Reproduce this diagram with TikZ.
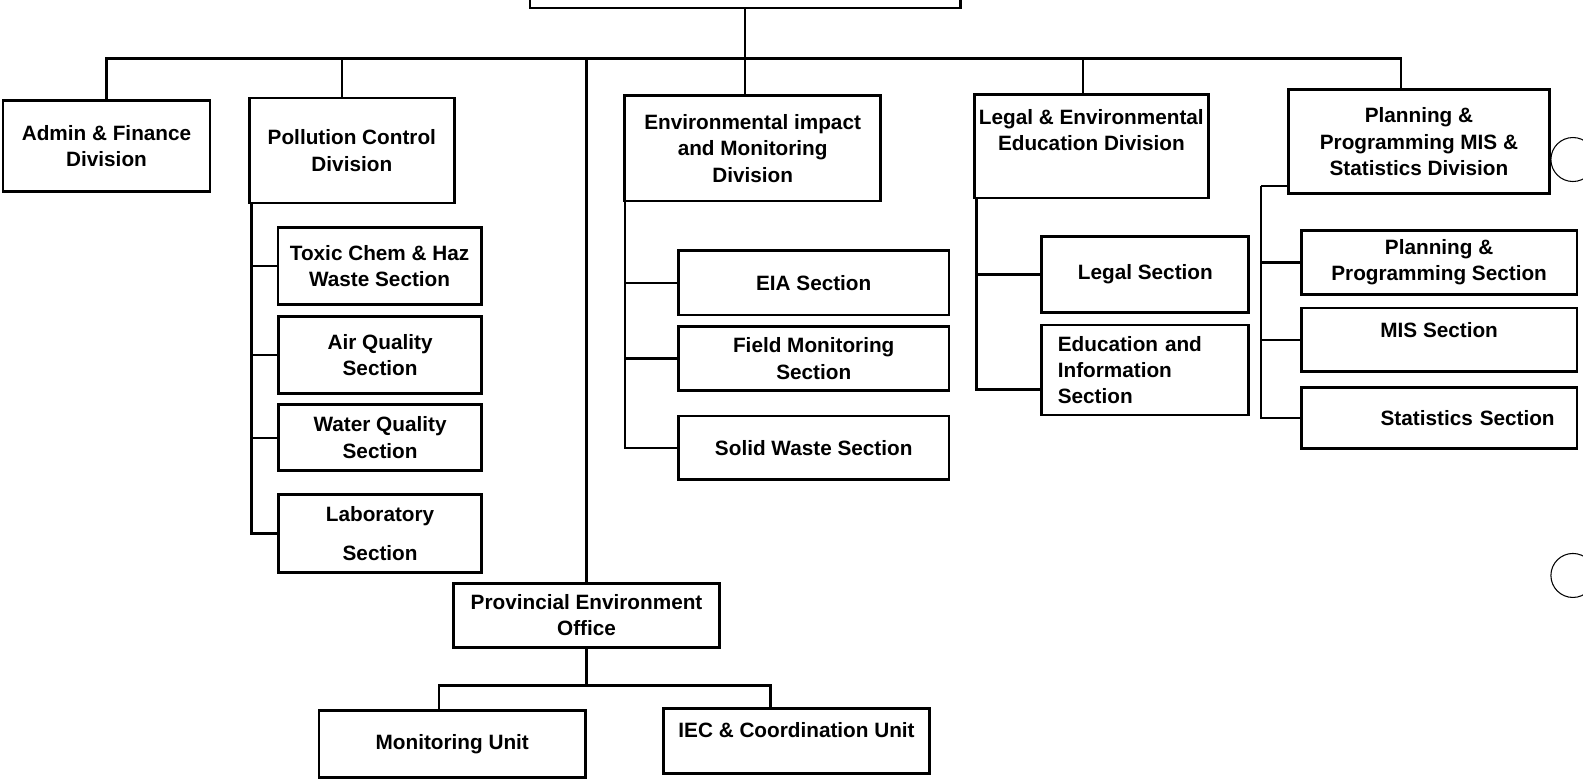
\documentclass[tikz,border=0pt]{standalone}
\usepackage{fontspec}
\setmainfont{Liberation Sans}
\usetikzlibrary{positioning}

\begin{document}
\begin{tikzpicture}[
    x=0.02019cm,y=-0.02019cm,
    box/.style={rectangle,draw,line width=1.6pt,fill=white,inner sep=2pt,align=center,
      font=\bfseries\fontsize{11.8}{15}\selectfont},
    division/.style={box,minimum height=2.08cm},
    section/.style={box,minimum height=1.29cm},
    link/.style={line width=1.3pt},
    punch/.style={line width=0.6pt}
    ]

    \path[use as bounding box,fill=white] (0,0) rectangle (1568,776);

    % head office, cut at the top edge
    \node (director) [box,minimum width=8.60cm,minimum height=1.37cm] at (738,-26) {};

    % divisions
    \node (admin) [division,minimum width=4.14cm,minimum height=1.82cm] at (105.5,145) {Admin \& Finance\\Division};
    \node (pollution) [division,minimum width=4.10cm,minimum height=2.10cm] at (348.5,149) {Pollution Control\\Division};
    \node (eim) [division,minimum width=5.11cm,minimum height=2.10cm] at (745.5,147) {Environmental impact\\and Monitoring\\Division};
    \node (legal) [division,minimum width=4.68cm,minimum height=2.06cm,inner xsep=0pt,text depth=19pt] at (1081,145) {Legal \& Environmental\\Education Division};
    \node (planning) [division,minimum width=5.23cm] at (1405.5,140.5) {Planning \&\\Programming MIS \&\\Statistics Division};

    % pollution control sections
    \node (toxic) [section,minimum width=4.06cm,minimum height=1.55cm] at (376,263.5) {Toxic Chem \& Haz\\Waste Section};
    \node (air) [section,minimum width=4.06cm,minimum height=1.55cm] at (376.5,351.5) {Air Quality\\Section};
    \node (water) [section,minimum width=4.06cm,minimum height=1.31cm] at (376.5,433.5) {Water Quality\\Section};
    \node (lab) [section,minimum width=4.06cm,minimum height=1.55cm] at (376.5,528.5) {Laboratory\\[7pt]Section};

    % impact and monitoring sections
    \node (eia) [section,minimum width=5.41cm] at (806,280) {EIA Section};
    \node (field) [section,minimum width=5.41cm] at (806,355) {Field Monitoring\\Section};
    \node (solid) [section,minimum width=5.41cm,minimum height=1.27cm] at (806,443.5) {Solid Waste Section};

    % legal sections
    \node (legalsec) [section,minimum width=4.14cm,minimum height=1.53cm] at (1134.5,272) {Legal Section};
    \node (edu) [section,align=left,text width=3.5cm,inner xsep=0.32cm,minimum height=1.80cm] at (1134.5,366.5) {Education and\\Information\\Section};

    % planning sections
    \node (ppsec) [section,minimum width=5.51cm] at (1425.5,260) {Planning \&\\Programming Section};
    \node (mis) [section,minimum width=5.51cm,minimum height=1.27cm,text depth=11pt] at (1425.5,336.5) {MIS Section};
    \node (stats) [section,align=right,text width=4.62cm,inner xsep=0.445cm,minimum height=1.21cm] at (1425.5,414) {Statistics Section};

    % provincial office and units
    \node (provincial) [section,minimum width=5.33cm,minimum height=1.27cm] at (581,609.5) {Provincial Environment\\Office};
    \node (monunit) [section,minimum width=5.33cm,minimum height=1.33cm] at (448,737) {Monitoring Unit};
    \node (iec) [section,minimum width=5.33cm,text depth=13pt] at (789,734) {IEC \& Coordination Unit};

    % main bus
    \coordinate (bus) at (738,58);
    \draw[link] (director.south) -- (bus);
    \draw[link] (admin.north) |- (bus) -| ([xshift=-0.36cm]planning.north);
    \draw[link] ([xshift=-0.19cm]pollution.north) -- ([xshift=-0.19cm]pollution.north |- bus);
    \draw[link] ([xshift=-0.15cm]eim.north) -- ([xshift=-0.15cm]eim.north |- bus);
    \draw[link] ([xshift=-0.16cm]legal.north) -- ([xshift=-0.16cm]legal.north |- bus);
    \draw[link] (provincial.north) -- (provincial.north |- bus);

    % section spines
    \coordinate (pcspine) at ([xshift=2pt]pollution.south west);
    \foreach \s in {toxic,air,water,lab}
      \draw[link] (pcspine) |- (\s.west);

    \coordinate (eimspine) at ([xshift=1pt]eim.south west);
    \foreach \s in {eia,field,solid}
      \draw[link] (eimspine) |- (\s.west);

    \coordinate (legalspine) at ([xshift=2pt]legal.south west);
    \draw[link] (legalspine) |- (legalsec.west);
    \draw[link] (legalspine) |- ([yshift=-0.39cm]edu.west);

    \draw[link] ([yshift=0.18cm]planning.south west) -- ++(-0.52cm,0) coordinate (ppspine);
    \foreach \s in {ppsec,mis,stats}
      \draw[link] (ppspine) |- (\s.west);

    \coordinate (peobus) at (581,679);
    \draw[link] (provincial.south) -- (peobus);
    \draw[link] ([xshift=-0.26cm]monunit.north) |- (peobus) -| ([xshift=-0.52cm]iec.north);

    % punch holes at the right edge
    \draw[punch] (1558,158) circle [radius=0.44cm];
    \draw[punch] (1558,570) circle [radius=0.44cm];

  \end{tikzpicture}
\end{document}
